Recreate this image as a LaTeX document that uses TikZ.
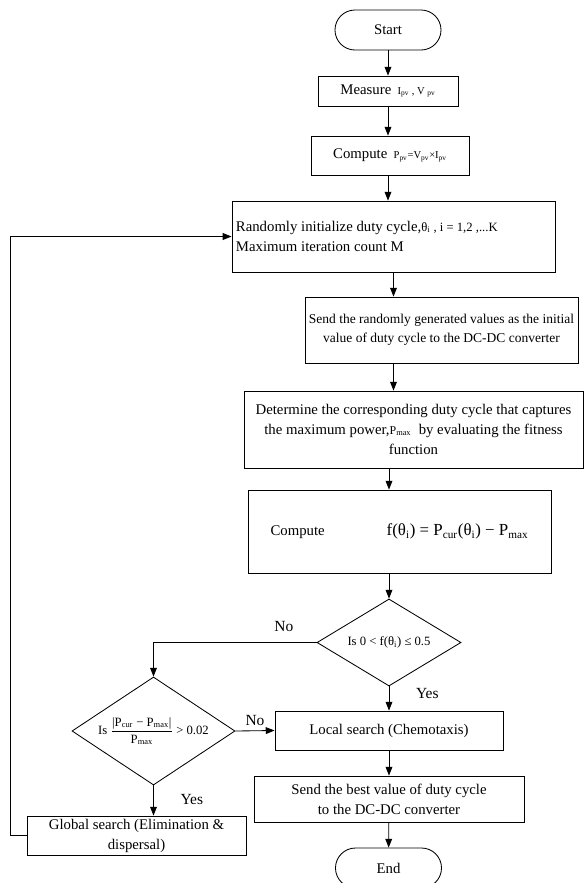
\documentclass[tikz,border=0pt]{standalone}
\usepackage{fontspec}
\setmainfont{Liberation Serif}
\usepackage{amsmath}
\usetikzlibrary{arrows.meta, shapes.geometric}

\newcommand{\sbs}[1]{\textsubscript{#1}}

\begin{document}
\begin{tikzpicture}[x=0.025cm, y=-0.025cm, line width=0.6pt,
  font=\fontsize{10.5}{14.2}\selectfont,
  term/.style={draw, rounded corners=0.5cm, minimum width=2.65cm, minimum height=1cm},
  proc/.style={draw, align=center, inner sep=1pt},
  dec/.style={draw, diamond, inner sep=0pt, font=\fontsize{9}{11}\selectfont},
  flow/.style={-{Triangle[length=2.2mm, width=1.7mm]}},
  lbl/.style={font=\fontsize{11}{12}\selectfont}]
  \useasboundingbox (0,0) rectangle (585,883);
  % Start and input
  \node[term] (start) at (388,30) {Start};
  \node[proc, minimum width=3.5cm, minimum height=0.75cm] (measure) at (388,91)
    {Measure {\fontsize{7.5}{8}\selectfont\ I\sbs{pv} , V \sbs{pv}}};
  \node[proc, minimum width=3.95cm, minimum height=0.975cm] (computeP) at (390,155.5)
    {Compute {\fontsize{7.5}{8}\selectfont\ P\sbs{pv}=V\sbs{pv}×I\sbs{pv}}};
  % Initialization
  \node[proc, align=flush left, text width=7.875cm, inner xsep=0.1cm, minimum height=1.775cm]
    (init) at (393.5,236.5)
    {Randomly initialize duty cycle,{\fontsize{9}{10}\selectfont θ\sbs{i} , i = 1,2 ,...K}\\
     Maximum iteration count M};
  \node[proc, minimum width=6.825cm, minimum height=1.65cm,
    font=\fontsize{9.6}{13.5}\selectfont] (sendInit) at (441.5,330)
    {Send the randomly generated values as the initial\\
     value of duty cycle to the DC-DC converter};
  \node[proc, minimum width=8.475cm, minimum height=1.925cm] (determine) at (413.5,429.5)
    {Determine the corresponding duty cycle that captures\\
     the maximum power,{\fontsize{8.5}{10}\selectfont P\sbs{max}}\ \ by evaluating the fitness\\
     function};
  \node[proc, minimum width=7.575cm, minimum height=2.075cm] (computeF) at (399.5,531.5)
    {Compute\hspace{1.55cm}{\fontsize{12}{14}\selectfont f(θ\sbs{i}) = P\sbs{cur}(θ\sbs{i}) − P\sbs{max}}};
  % Decisions
  \node[dec, aspect=1.655, minimum width=3.6cm, minimum height=2.175cm] (dec1) at (389,642.5)
    {Is 0 < f(θ\sbs{i}) ≤ 0.5};
  \node[dec, aspect=1.5, inner xsep=-0.3cm, minimum width=4.075cm, minimum height=2.7cm]
    (dec2) at (153.5,731)
    {Is $\dfrac{\mbox{|P\sbs{cur} − P\sbs{max}|}}{\mbox{P\sbs{max}}}$ > 0.02};
  % Search steps
  \node[proc, minimum width=5.7cm, minimum height=0.975cm] (localS) at (389,730.5)
    {Local search (Chemotaxis)};
  \node[proc, minimum width=6.75cm, minimum height=1.15cm] (sendBest) at (389,799)
    {Send the best value of duty cycle\\ to the DC-DC converter};
  \node[proc, minimum width=5.475cm, minimum height=0.975cm] (globalS) at (136.5,835.5)
    {Global search (Elimination \&\\ dispersal)};
  \node[term] (endN) at (388.5,868) {End};
  \coordinate (loopC) at (10,0);
  % Connectors
  \draw[flow] (start) -- (measure);
  \draw[flow] (measure.south) -- (measure.south |- computeP.north);
  \draw[flow] (computeP.south -| start.south) -- (start.south |- init.north);
  \draw[flow] (init.south) -- (init.south |- sendInit.north);
  \draw[flow] (sendInit.south -| init.south) -- (init.south |- determine.north);
  \draw[flow] (determine.south -| dec1.north) -- (dec1.north |- computeF.north);
  \draw[flow] (computeF.south -| dec1.north) -- (dec1.north);
  \draw[flow] (dec1.south) -- node[lbl, pos=0.3, right=0.55cm] {Yes} (localS.north);
  \draw[flow] (dec1.west) -| node[lbl, pos=0.1, above=4pt] {No} (dec2.north);
  \draw[flow] (dec2.east) -- node[lbl, above] {No} (localS.west);
  \draw[flow] (dec2.south) -- node[lbl, pos=0.48, right=0.55cm] {Yes} (dec2.south |- globalS.north);
  \draw[flow] (localS) -- (sendBest);
  \draw[flow] (sendBest) -- (endN);
  \draw[flow] (globalS.west) -- (globalS.west -| loopC) -- (loopC |- init.west) -- (init.west);
\end{tikzpicture}
\end{document}
